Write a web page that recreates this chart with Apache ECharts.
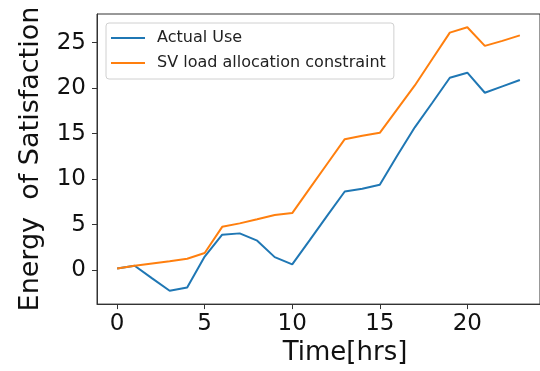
<!DOCTYPE html>
<html>
<head>
<meta charset="utf-8">
<script src="https://cdn.jsdelivr.net/npm/echarts@6/dist/echarts.min.js"></script>
<style>html,body{margin:0;padding:0;background:#fff;}#c{width:540px;height:371px;}</style>
</head>
<body>
<div id="c"></div>
<script>
var hours = [0,1,2,3,4,5,6,7,8,9,10,11,12,13,14,15,16,17,18,19,20,21,22,23];
var actualUse = [0.2,0.5,-0.9,-2.25,-1.9,1.5,3.9,4.05,3.25,1.44,0.65,3.3,6.0,8.65,8.95,9.4,12.6,15.7,18.4,21.15,21.7,19.5,20.2,20.9];
var svConstraint = [0.2,0.5,0.75,1.0,1.27,1.9,4.77,5.15,5.6,6.07,6.28,9.0,11.7,14.4,14.78,15.1,17.7,20.3,23.2,26.1,26.7,24.65,25.2,25.8];
var xTicks = [0,5,10,15,20];
var yTicks = [0,5,10,15,20,25];
var seriesNames = ['Actual Use','SV load allocation constraint'];
var xLabel = 'Time[hrs]';
var yLabel = 'Energy  of Satisfaction';

function pairs(v){ return hours.map(function(h,i){ return [h, v[i]]; }); }
var font = 'DejaVu Sans';
var chart = echarts.init(document.getElementById('c'), null, {renderer:'canvas'});
chart.setOption({
  animation:false,
  backgroundColor:'#fff',
  grid:{left:97, top:14, width:451, height:294, show:true, borderColor:'#333', borderWidth:1, containLabel:false},
  legend:{
    left:106, top:23, orient:'vertical',
    data:seriesNames,
    icon:'rect', itemWidth:34, itemHeight:2, itemGap:9,
    padding:[7,8,8,5],
    backgroundColor:'rgba(255,255,255,0.8)', borderColor:'#d0d0d0', borderWidth:1, borderRadius:3,
    textStyle:{fontFamily:font, fontSize:16, color:'#222', padding:[0,0,0,7], lineHeight:16}
  },
  xAxis:{
    type:'value', min:-1.15, max:24.15,
    name:xLabel, nameLocation:'middle', nameGap:32,
    nameTextStyle:{fontFamily:font, fontSize:26, color:'#111', padding:[0,0,0,53]},
    axisLine:{show:true, onZero:false, lineStyle:{color:'#333', width:1}},
    axisTick:{show:true, length:5, inside:false, customValues:xTicks, lineStyle:{color:'#333'}},
    axisLabel:{customValues:xTicks, fontFamily:font, fontSize:23, color:'#111', margin:8},
    splitLine:{show:false}
  },
  yAxis:{
    type:'value', min:-3.72, max:28.15,
    name:yLabel, nameLocation:'middle', nameGap:53, nameRotate:90,
    nameTextStyle:{fontFamily:font, fontSize:27, color:'#111'},
    axisLine:{show:true, onZero:false, lineStyle:{color:'#333', width:1}},
    axisTick:{show:true, length:5, inside:false, customValues:yTicks, lineStyle:{color:'#333'}},
    axisLabel:{customValues:yTicks, fontFamily:font, fontSize:23, color:'#111', margin:11},
    splitLine:{show:false}
  },
  series:[
    {name:seriesNames[0], type:'line', data:pairs(actualUse), showSymbol:false, symbol:'none', lineStyle:{color:'#1f77b4', width:2}, itemStyle:{color:'#1f77b4'}},
    {name:seriesNames[1], type:'line', data:pairs(svConstraint), showSymbol:false, symbol:'none', lineStyle:{color:'#ff7f0e', width:2}, itemStyle:{color:'#ff7f0e'}}
  ]
});
</script>
</body>
</html>
